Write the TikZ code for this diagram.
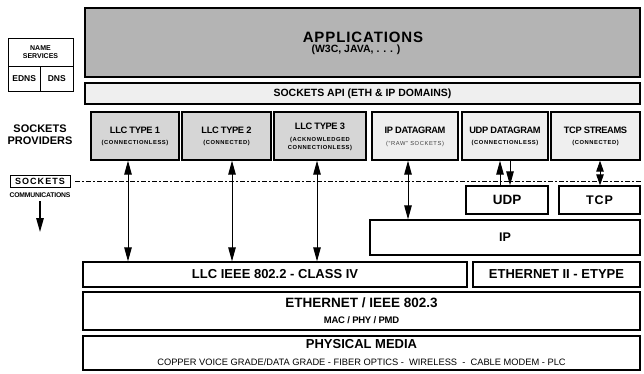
\documentclass[tikz,border=0pt]{standalone}
\usepackage{fontspec}
\setmainfont{Liberation Sans}
\usetikzlibrary{arrows.meta}
\definecolor{appgray}{HTML}{B4B4B4}
\definecolor{llcgray}{HTML}{D6D6D6}
\definecolor{ltgray}{HTML}{EFEFEF}
\newcommand{\fs}[1]{\fontsize{#1}{#1}\selectfont}
\newcommand{\lsp}[1]{\addfontfeature{LetterSpace=#1}}
\begin{document}
\begin{tikzpicture}[x=1pt,y=-1pt,
  box/.style={draw, line width=1.3pt, inner sep=0pt, align=center, font=\bfseries},
  thinbox/.style={draw, line width=0.8pt, inner sep=0pt, align=center, font=\bfseries},
  txt/.style={inner sep=0pt, align=center, font=\bfseries},
  arr/.style={line width=1pt, -{Triangle[length=14pt,width=7.5pt]}},
  darr/.style={line width=1pt, {Triangle[length=14pt,width=7.5pt]}-{Triangle[length=14pt,width=7.5pt]}},
  sdarr/.style={line width=1pt, {Triangle[length=11pt,width=7.5pt]}-{Triangle[length=11pt,width=7.5pt]}},
  dashdot/.style={line width=1pt, dash pattern=on 5pt off 2pt on 2pt off 2pt}]
\useasboundingbox (0,0) rectangle (644,374);

% Name services
\node[thinbox, minimum width=65pt, minimum height=28pt] (ns) at (40.5,52) {};
\node[txt, font=\bfseries\fs{7}] (nst) at (40.5,48) {NAME};
\node[txt, font=\bfseries\fs{7}] (nsb) at (40.5,56) {SERVICES};
\node[thinbox, minimum width=32.5pt, minimum height=25pt, font=\bfseries\fs{8.5}] (edns) at (24.25,78.5) {EDNS};
\node[thinbox, minimum width=32.5pt, minimum height=25pt, font=\bfseries\fs{8.5}] (dns) at (56.75,78.5) {DNS};

% Top layers
\node[box, fill=appgray, minimum width=555pt, minimum height=69pt] (app) at (362.5,42.5) {};
\node[txt, font=\bfseries\fs{15}\lsp{6}] (appt) at (363,37) {APPLICATIONS};
\node[txt, font=\bfseries\fs{10.5}] (apps) at (356,50) {(W3C, JAVA, . . . )};
\node[box, fill=ltgray, minimum width=555pt, minimum height=21pt, font=\bfseries\fs{10.5}] (api) at (362.5,93.5)
  {SOCKETS API (ETH \& IP DOMAINS)};

% Socket providers label
\node[txt, font=\bfseries\fs{11}] (sp1) at (40,129) {SOCKETS};
\node[txt, font=\bfseries\fs{11}] (sp2) at (40,141) {PROVIDERS};

% Providers
\tikzset{pttl/.style={txt, font=\bfseries\fs{9.3}\lsp{-4}},
         psub/.style={txt, font=\bfseries\fs{5.8}\lsp{10}}}
\node[box, fill=llcgray, minimum width=88pt, minimum height=48pt] (llc1) at (135,136) {};
\node[pttl] (llc1t) at (135,130) {LLC TYPE 1};
\node[psub] (llc1s) at (135,143) {(CONNECTIONLESS)};
\node[box, fill=llcgray, minimum width=89pt, minimum height=48pt] (llc2) at (226.5,136) {};
\node[pttl] (llc2t) at (226.5,130) {LLC TYPE 2};
\node[psub] (llc2s) at (226.5,143) {(CONNECTED)};
\node[box, fill=llcgray, minimum width=92pt, minimum height=48pt] (llc3) at (320,136) {};
\node[pttl] (llc3t) at (320,126) {LLC TYPE 3};
\node[psub] (llc3s) at (320,140) {(ACKNOWLEDGED};
\node[psub] (llc3u) at (320,148) {CONNECTIONLESS)};
\node[box, fill=ltgray, minimum width=86pt, minimum height=48pt] (ipd) at (415,136) {};
\node[pttl] (ipdt) at (415,130) {IP DATAGRAM};
\node[psub, font=\fs{5.8}\lsp{10}, text=black!75] (ipds) at (415,144) {(``RAW'' SOCKETS)};
\node[box, fill=ltgray, minimum width=86pt, minimum height=48pt] (udpd) at (505,136) {};
\node[pttl] (udpdt) at (505,130) {UDP DATAGRAM};
\node[psub] (udpds) at (505,143) {(CONNECTIONLESS)};
\node[box, fill=ltgray, minimum width=89pt, minimum height=48pt] (tcps) at (595.5,136) {};
\node[pttl] (tcpst) at (595.5,130) {TCP STREAMS};
\node[psub] (tcpss) at (595.5,143) {(CONNECTED)};

% Sockets communications
\node[thinbox, line width=1pt, minimum width=60pt, minimum height=11.5pt, font=\bfseries\fs{9}\lsp{12}] (sock) at (40,181.5) {SOCKETS};
\node[txt, font=\bfseries\fs{6.8}\lsp{-3}] (comm) at (40,195) {COMMUNICATIONS};
\coordinate (cs) at (40,201);
\coordinate (ce) at (40,232);
\draw[arr, line width=1.4pt] (cs) -- (ce);

\coordinate (dl) at (75,181.5);
\draw[dashdot] (dl) -- (dl -| tcps.east);

% Transport
\node[box, minimum width=82pt, minimum height=28pt, font=\bfseries\fs{13.5}] (udp) at (507,200) {UDP};
\node[box, minimum width=81pt, minimum height=28pt, font=\bfseries\fs{12.5}\lsp{8}] (tcp) at (599.5,200) {TCP};
\node[box, minimum width=270pt, minimum height=35pt, font=\bfseries\fs{12.5}] (ip) at (505,237.5) {IP};

% Link layers
\node[box, minimum width=384pt, minimum height=25pt, font=\bfseries\fs{13}] (llc) at (275,274.5) {LLC IEEE 802.2 - CLASS IV};
\node[box, minimum width=167pt, minimum height=25pt, font=\bfseries\fs{13}] (eth2) at (556.5,274.5) {ETHERNET II - ETYPE};
\node[box, minimum width=557pt, minimum height=38pt] (eth) at (361.5,311) {};
\node[txt, font=\bfseries\fs{13.5}] (etht) at (361.5,303) {ETHERNET / IEEE 802.3};
\node[txt, font=\bfseries\fs{9.5}\lsp{-3}] (eths) at (361.5,320.5) {MAC / PHY / PMD};
\node[box, minimum width=557pt, minimum height=34pt] (phys) at (361.5,353) {};
\node[txt, font=\bfseries\fs{13}] (physt) at (361.5,344.5) {PHYSICAL MEDIA};
\node[txt, font=\fs{9.3}] (physs) at (361.5,362) {COPPER VOICE GRADE/DATA GRADE - FIBER OPTICS -\ \ WIRELESS\ \ -\ \ CABLE MODEM - PLC};

% Connectors
\draw[darr] ([xshift=-7pt]llc1.south) -- ([xshift=-7pt]llc1.south |- llc.north);
\draw[darr] ([xshift=5.5pt]llc2.south) -- ([xshift=5.5pt]llc2.south |- llc.north);
\draw[darr] ([xshift=-3pt]llc3.south) -- ([xshift=-3pt]llc3.south |- llc.north);
\draw[darr] ([xshift=-7pt]ipd.south) -- ([xshift=-7pt]ipd.south |- ip.north);
\draw[arr] ([xshift=-5pt]udpd.south |- udp.north) -- ([xshift=-5pt]udpd.south);
\draw[arr] ([xshift=5pt]udpd.south) -- ([xshift=5pt]udpd.south |- udp.north);
\draw[sdarr] ([xshift=4.5pt]tcps.south) -- ([xshift=4.5pt]tcps.south |- tcp.north);
\end{tikzpicture}
\end{document}
